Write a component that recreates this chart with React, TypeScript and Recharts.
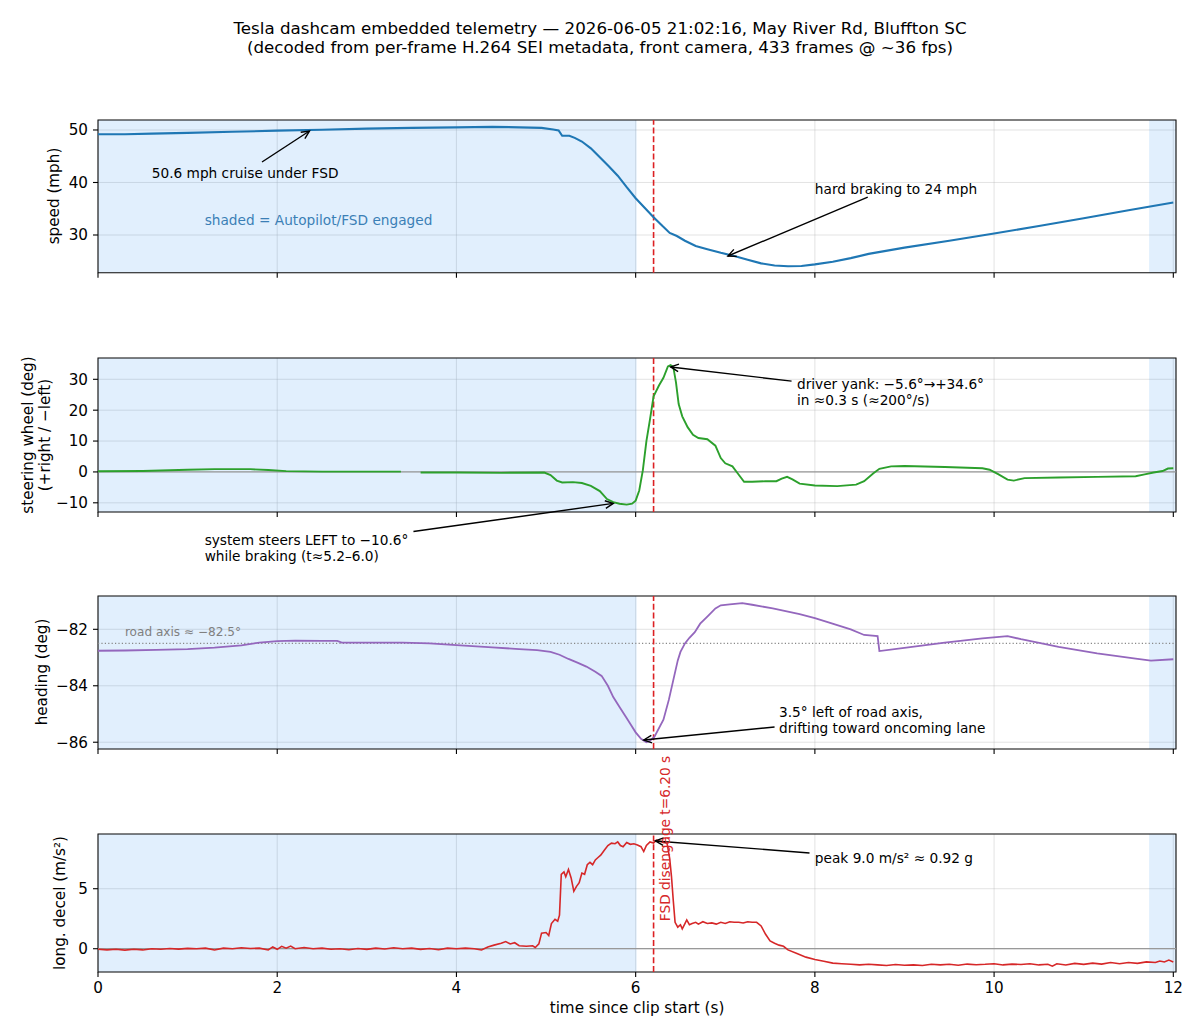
import React from 'react';
import {
  LineChart,
  Line,
  XAxis,
  YAxis,
  CartesianGrid,
  ReferenceLine,
  ReferenceArea,
  ReferenceDot,
} from 'recharts';

const FONT = '"DejaVu Sans", Verdana, sans-serif';
const PAGE_W = 1200;
const PAGE_H = 1036;
const PLOT_LEFT = 98;
const PLOT_RIGHT = 1176;
const Y_AXIS_W = 40;
const X_AXIS_H = 30;

const TITLE_SIZE = 16.7;
const LABEL_SIZE = 15.2;
const TICK_SIZE = 15.2;
const ANNO_SIZE = 13.7;
const SMALL_SIZE = 12.1;

const X_DOMAIN: [number, number] = [0, 12.03];
const X_TICKS = [0, 2, 4, 6, 8, 10, 12];
const DISENGAGE_T = 6.2;
const ENGAGED_SPANS: [number, number][] = [
  [0, 6.01],
  [11.73, 12.03],
];

// speed (mph) vs time (s)
const speedSeries: [number, number][] = [
  [0, 49.2], [0.3, 49.2], [0.6, 49.3], [1.0, 49.45], [1.5, 49.65], [2.0, 49.87],
  [2.5, 50.05], [3.0, 50.25], [3.5, 50.4], [4.0, 50.5], [4.4, 50.6], [4.7, 50.5],
  [4.95, 50.4], [5.08, 50.1], [5.14, 49.9], [5.18, 48.9], [5.26, 48.9], [5.32, 48.5],
  [5.4, 47.8], [5.5, 46.5], [5.6, 44.8], [5.7, 43.1], [5.8, 41.3], [5.9, 39.1],
  [6.0, 37.0], [6.1, 35.2], [6.2, 33.4], [6.3, 31.7], [6.38, 30.4], [6.46, 29.8],
  [6.55, 28.9], [6.67, 27.9], [6.8, 27.3], [6.95, 26.6], [7.1, 26.0], [7.25, 25.3],
  [7.4, 24.6], [7.55, 24.2], [7.7, 24.05], [7.85, 24.1], [8.0, 24.4], [8.2, 24.9],
  [8.4, 25.6], [8.6, 26.4], [9.0, 27.6], [9.5, 28.9], [10.0, 30.3], [10.5, 31.7],
  [11.0, 33.2], [11.5, 34.7], [12.0, 36.2],
];

// steering wheel angle (deg), null = missing frames
const steeringSeries: [number, number | null][] = [
  [0, 0.2], [0.5, 0.3], [1.0, 0.7], [1.3, 0.9], [1.7, 0.9], [1.9, 0.6], [2.1, 0.25],
  [2.5, 0.1], [3.0, 0.1], [3.38, 0.1], [3.48, null], [3.6, -0.2], [4.0, -0.2],
  [4.5, -0.3], [4.98, -0.2], [5.05, -1.0], [5.12, -2.8], [5.18, -3.4], [5.3, -3.3],
  [5.4, -3.6], [5.5, -4.5], [5.6, -6.2], [5.68, -8.8], [5.75, -9.8], [5.82, -10.3],
  [5.9, -10.6], [5.96, -10.3], [6.0, -9.3], [6.04, -6.0], [6.08, 0.5], [6.12, 10],
  [6.16, 17], [6.2, 24.5], [6.26, 28.0], [6.31, 30.5], [6.36, 34.2], [6.39, 34.6],
  [6.42, 34.0], [6.45, 29], [6.48, 22], [6.52, 18], [6.58, 14.5], [6.64, 12], [6.7, 11],
  [6.8, 10.6], [6.89, 8.5], [6.95, 4.5], [7.0, 2.8], [7.08, 1.8], [7.14, -0.5],
  [7.21, -3.2], [7.3, -3.2], [7.45, -3.0], [7.57, -3.0], [7.63, -2.2], [7.69, -1.6],
  [7.75, -2.4], [7.83, -3.8], [8.0, -4.4], [8.25, -4.6], [8.46, -4.1], [8.55, -3.0],
  [8.65, -0.5], [8.72, 1.0], [8.85, 1.8], [9.0, 1.9], [9.45, 1.6], [9.87, 1.2],
  [9.95, 0.7], [10.05, -0.8], [10.15, -2.5], [10.22, -2.8], [10.34, -2.0],
  [10.72, -1.8], [11.15, -1.6], [11.58, -1.4], [11.68, -0.8], [11.78, -0.2],
  [11.88, 0.3], [11.94, 1.1], [12.0, 1.2],
];

// heading (deg)
const headingSeries: [number, number][] = [
  [0, -82.76], [0.3, -82.75], [0.65, -82.73], [1.0, -82.7], [1.3, -82.65], [1.6, -82.57],
  [1.8, -82.47], [2.0, -82.42], [2.2, -82.4], [2.5, -82.41], [2.67, -82.41], [2.72, -82.47],
  [3.0, -82.47], [3.4, -82.47], [3.7, -82.5], [4.0, -82.56], [4.4, -82.64], [4.7, -82.7],
  [4.9, -82.74], [5.05, -82.8], [5.15, -82.9], [5.25, -83.05], [5.35, -83.18],
  [5.45, -83.32], [5.55, -83.5], [5.62, -83.65], [5.69, -84.0], [5.75, -84.4],
  [5.82, -84.75], [5.89, -85.1], [5.95, -85.4], [6.0, -85.65], [6.06, -85.88],
  [6.12, -86.0], [6.16, -85.95], [6.21, -85.8], [6.31, -85.2], [6.37, -84.5],
  [6.42, -83.8], [6.47, -83.1], [6.5, -82.8], [6.55, -82.5], [6.6, -82.3], [6.66, -82.1],
  [6.72, -81.8], [6.8, -81.55], [6.89, -81.26], [6.95, -81.15], [7.05, -81.12],
  [7.19, -81.07], [7.3, -81.13], [7.53, -81.26], [7.83, -81.46], [8.0, -81.6],
  [8.17, -81.77], [8.4, -82.0], [8.55, -82.2], [8.7, -82.24], [8.72, -82.77],
  [9.02, -82.65], [9.45, -82.47], [9.87, -82.32], [10.15, -82.24], [10.3, -82.35],
  [10.72, -82.62], [11.15, -82.85], [11.58, -83.04], [11.75, -83.11], [12.0, -83.06],
];

// longitudinal deceleration (m/s^2)
const decelSeries: [number, number][] = [
  [0.0, -0.05], [0.1, -0.1], [0.2, -0.05], [0.3, -0.12], [0.4, -0.05], [0.5, -0.1],
  [0.6, 0.0], [0.7, -0.05], [0.8, 0.02], [0.9, -0.03], [1.0, 0.03], [1.1, 0.0],
  [1.2, 0.05], [1.3, -0.1], [1.4, 0.05], [1.5, 0.0], [1.6, 0.08], [1.7, 0.02],
  [1.8, 0.05], [1.9, -0.1], [1.95, 0.15], [2.0, -0.05], [2.05, 0.2], [2.1, 0.05],
  [2.15, 0.22], [2.2, 0.0], [2.3, 0.1], [2.4, 0.0], [2.5, 0.05], [2.6, -0.05],
  [2.7, 0.0], [2.8, -0.08], [2.9, 0.02], [3.0, -0.05], [3.1, 0.05], [3.2, -0.02],
  [3.3, 0.08], [3.4, 0.0], [3.5, 0.05], [3.6, -0.05], [3.7, 0.02], [3.8, -0.08],
  [3.9, 0.05], [4.0, 0.0], [4.1, 0.05], [4.2, 0.0], [4.28, -0.1], [4.35, 0.15],
  [4.42, 0.3], [4.5, 0.45], [4.55, 0.6], [4.6, 0.4], [4.65, 0.5], [4.7, 0.25],
  [4.78, 0.2], [4.85, 0.25], [4.88, 0.1], [4.92, 0.4], [4.95, 1.3], [5.0, 1.35],
  [5.03, 1.1], [5.06, 2.1], [5.1, 2.45], [5.13, 2.3], [5.15, 2.8], [5.17, 6.2],
  [5.2, 6.4], [5.22, 6.0], [5.25, 6.6], [5.28, 5.9], [5.31, 4.8], [5.34, 5.2],
  [5.37, 5.5], [5.4, 6.3], [5.43, 6.2], [5.46, 7.0], [5.49, 7.2], [5.52, 7.0],
  [5.55, 7.4], [5.58, 7.6], [5.61, 7.8], [5.65, 8.2], [5.69, 8.6], [5.73, 8.8],
  [5.77, 8.75], [5.8, 8.9], [5.83, 8.6], [5.86, 8.5], [5.9, 8.85], [5.94, 8.7],
  [5.98, 8.75], [6.02, 8.65], [6.06, 8.5], [6.09, 8.1], [6.12, 8.6], [6.16, 8.9],
  [6.2, 8.8], [6.23, 9.05], [6.27, 8.95], [6.31, 8.85], [6.35, 8.8], [6.38, 7.5],
  [6.4, 6.0], [6.42, 4.0], [6.44, 2.2], [6.47, 1.8], [6.5, 2.0], [6.52, 1.65],
  [6.55, 2.1], [6.57, 2.4], [6.6, 2.0], [6.63, 2.1], [6.67, 2.2], [6.7, 2.05],
  [6.75, 2.25], [6.8, 2.1], [6.85, 2.15], [6.9, 2.05], [6.95, 2.2], [7.0, 2.1],
  [7.05, 2.25], [7.1, 2.2], [7.15, 2.2], [7.2, 2.15], [7.25, 2.25], [7.3, 2.2],
  [7.35, 2.2], [7.4, 1.9], [7.45, 1.2], [7.5, 0.65], [7.55, 0.45], [7.6, 0.3],
  [7.65, 0.2], [7.7, -0.1], [7.8, -0.4], [7.9, -0.7], [8.0, -0.9], [8.1, -1.05],
  [8.2, -1.2], [8.3, -1.25], [8.4, -1.3], [8.5, -1.35], [8.6, -1.3], [8.7, -1.35],
  [8.8, -1.4], [8.9, -1.32], [9.0, -1.38], [9.1, -1.35], [9.2, -1.4], [9.3, -1.3],
  [9.4, -1.35], [9.5, -1.3], [9.6, -1.38], [9.7, -1.28], [9.8, -1.33], [9.9, -1.3],
  [10.0, -1.25], [10.1, -1.35], [10.2, -1.28], [10.3, -1.32], [10.4, -1.25],
  [10.5, -1.35], [10.6, -1.3], [10.65, -1.45], [10.7, -1.25], [10.8, -1.35],
  [10.9, -1.22], [11.0, -1.3], [11.1, -1.2], [11.2, -1.28], [11.3, -1.15],
  [11.4, -1.25], [11.5, -1.15], [11.6, -1.22], [11.7, -1.1], [11.8, -1.15],
  [11.85, -1.02], [11.9, -1.1], [11.95, -0.95], [12.0, -1.1],
];

const speedTicks = [30, 40, 50];
const steeringTicks = [-10, 0, 10, 20, 30];
const headingTicks = [-86, -84, -82];
const decelTicks = [0, 5];

const ROAD_AXIS = -82.5;

const toData = (s: [number, number | null][]) => s.map(([t, v]) => ({ t, v }));

const fmt = (v: number) => (v < 0 ? `\u2212${Math.abs(v)}` : `${v}`);

type Anno = {
  lines: string[];
  at: [number, number];
  tail?: [number, number];
  head?: [number, number];
};

const speedAnnos: Anno[] = [
  { lines: ['50.6 mph cruise under FSD'], at: [0.6, 41.8], tail: [1.83, 43.9], head: [2.36, 49.8] },
  { lines: ['hard braking to 24 mph'], at: [8.0, 38.76], tail: [8.59, 37.2], head: [7.03, 26.0] },
];
const steeringAnnos: Anno[] = [
  {
    lines: ['driver yank: \u22125.6\u00b0\u2192+34.6\u00b0', 'in \u22480.3 s (\u2248200\u00b0/s)'],
    at: [7.8, 28.5], tail: [7.74, 29.4], head: [6.39, 34.0],
  },
  {
    lines: ['system steers LEFT to \u221210.6\u00b0', 'while braking (t\u22485.2\u20136.0)'],
    at: [1.19, -21.9], tail: [3.52, -19.3], head: [5.75, -10.2],
  },
];
const headingAnnos: Anno[] = [
  {
    lines: ['3.5\u00b0 left of road axis,', 'drifting toward oncoming lane'],
    at: [7.6, -84.93], tail: [7.55, -85.46], head: [6.09, -85.92],
  },
];
const decelAnnos: Anno[] = [
  { lines: ['peak 9.0 m/s\u00b2 \u2248 0.92 g'], at: [8.0, 7.56], tail: [7.94, 7.98], head: [6.22, 8.98] },
];

const ArrowShape = (p: any) => {
  const { x1, y1, x2, y2 } = p;
  if (![x1, y1, x2, y2].every((n) => typeof n === 'number' && isFinite(n))) return null;
  const ang = Math.atan2(y2 - y1, x2 - x1);
  const L = 8;
  const W = 3.8;
  const bx = x2 - L * Math.cos(ang);
  const by = y2 - L * Math.sin(ang);
  const px = -Math.sin(ang) * W;
  const py = Math.cos(ang) * W;
  return (
    <g>
      <line x1={x1} y1={y1} x2={x2} y2={y2} stroke="#000" strokeWidth={1.4} />
      <polyline
        points={`${bx + px},${by + py} ${x2},${y2} ${bx - px},${by - py}`}
        fill="none"
        stroke="#000"
        strokeWidth={1.4}
      />
    </g>
  );
};

const makeTextShape =
  (lines: string[], opts: { fill?: string; size?: number; rotate?: boolean } = {}) =>
  (p: any) => {
    const { cx, cy } = p;
    if (typeof cx !== 'number' || typeof cy !== 'number') return null;
    const size = opts.size ?? ANNO_SIZE;
    return (
      <text
        x={cx}
        y={cy}
        fill={opts.fill ?? '#000'}
        fontSize={size}
        fontFamily={FONT}
        dominantBaseline="central"
        textAnchor="start"
        transform={opts.rotate ? `rotate(-90, ${cx}, ${cy})` : undefined}
      >
        {lines.map((l, i) => (
          <tspan key={i} x={cx} dy={i === 0 ? 0 : size * 1.18}>
            {l}
          </tspan>
        ))}
      </text>
    );
  };

const renderAnnos = (annos: Anno[], prefix: string) =>
  annos.flatMap((a, i) => {
    const out: React.ReactNode[] = [
      <ReferenceDot
        key={`${prefix}-t-${i}`}
        x={a.at[0]}
        y={a.at[1]}
        r={0}
        ifOverflow="visible"
        shape={makeTextShape(a.lines)}
      />,
    ];
    if (a.tail && a.head) {
      out.push(
        <ReferenceLine
          key={`${prefix}-a-${i}`}
          segment={[
            { x: a.tail[0], y: a.tail[1] },
            { x: a.head[0], y: a.head[1] },
          ]}
          ifOverflow="visible"
          shape={ArrowShape}
        />
      );
    }
    return out;
  });

const EmptyTick = () => <g />;

type PanelProps = {
  data: { t: number; v: number | null }[];
  color: string;
  strokeWidth: number;
  top: number;
  bottom: number;
  yDomain: [number, number];
  yTicks: number[];
  showXLabels: boolean;
  before?: React.ReactNode[];
  after?: React.ReactNode[];
};

const Panel = ({ data, color, strokeWidth, top, bottom, yDomain, yTicks, showXLabels, before = [], after = [] }: PanelProps) => (
  <div style={{ position: 'absolute', left: 0, top: 0, width: PAGE_W, height: PAGE_H, pointerEvents: 'none' }}>
    <LineChart
      width={PAGE_W}
      height={PAGE_H}
      data={data}
      margin={{
        top,
        bottom: PAGE_H - bottom - X_AXIS_H,
        left: PLOT_LEFT - Y_AXIS_W,
        right: PAGE_W - PLOT_RIGHT,
      }}
    >
      {ENGAGED_SPANS.map(([a, b], i) => (
        <ReferenceArea
          key={`shade-${i}`}
          x1={a}
          x2={b}
          y1={yDomain[0]}
          y2={yDomain[1]}
          fill="#1a86f0"
          fillOpacity={0.13}
          stroke="none"
          ifOverflow="hidden"
        />
      ))}
      <CartesianGrid stroke="#b0b0b0" strokeOpacity={0.4} strokeWidth={0.9} />
      <XAxis
        dataKey="t"
        type="number"
        domain={X_DOMAIN}
        allowDataOverflow
        ticks={X_TICKS}
        height={X_AXIS_H}
        axisLine={false}
        tickSize={5}
        tickMargin={5}
        tickLine={{ stroke: '#000', strokeWidth: 1.1 }}
        tick={showXLabels ? { fill: '#000', fontSize: TICK_SIZE, fontFamily: FONT } : EmptyTick}
        interval={0}
      />
      <YAxis
        type="number"
        domain={yDomain}
        allowDataOverflow
        ticks={yTicks}
        width={Y_AXIS_W}
        axisLine={false}
        tickSize={5}
        tickMargin={5}
        tickLine={{ stroke: '#000', strokeWidth: 1.1 }}
        tick={{ fill: '#000', fontSize: TICK_SIZE, fontFamily: FONT }}
        tickFormatter={fmt}
        interval={0}
      />
      {before}
      <ReferenceLine x={DISENGAGE_T} stroke="#dc2023" strokeWidth={1.6} strokeDasharray="6 2.7" />
      <Line
        type="linear"
        dataKey="v"
        stroke={color}
        strokeWidth={strokeWidth}
        dot={false}
        activeDot={false}
        isAnimationActive={false}
      />
      <ReferenceArea
        x1={X_DOMAIN[0]}
        x2={X_DOMAIN[1]}
        y1={yDomain[0]}
        y2={yDomain[1]}
        fill="none"
        fillOpacity={0}
        stroke="#111"
        strokeWidth={1.1}
        ifOverflow="visible"
      />
      {after}
    </LineChart>
  </div>
);

const P1 = { top: 120, bottom: 272.7 };
const P2 = { top: 358, bottom: 512 };
const P3 = { top: 596, bottom: 749 };
const P4 = { top: 834, bottom: 972 };

export default function App() {
  return (
    <div
      style={{
        position: 'absolute',
        left: 0,
        top: 0,
        width: PAGE_W,
        height: PAGE_H,
        background: '#fff',
        fontFamily: FONT,
        overflow: 'hidden',
      }}
    >
      <svg
        width={PAGE_W}
        height={PAGE_H}
        style={{ position: 'absolute', left: 0, top: 0 }}
        fontFamily={FONT}
      >
        <text x={600} y={28} textAnchor="middle" dominantBaseline="central" fontSize={TITLE_SIZE} fill="#000">
          Tesla dashcam embedded telemetry — 2026-06-05 21:02:16, May River Rd, Bluffton SC
        </text>
        <text x={600} y={47} textAnchor="middle" dominantBaseline="central" fontSize={TITLE_SIZE} fill="#000">
          (decoded from per-frame H.264 SEI metadata, front camera, 433 frames @ ~36 fps)
        </text>
        <text transform="translate(54,196) rotate(-90)" textAnchor="middle" dominantBaseline="central" fontSize={LABEL_SIZE} fill="#000">
          speed (mph)
        </text>
        <text transform="translate(28,435) rotate(-90)" textAnchor="middle" dominantBaseline="central" fontSize={LABEL_SIZE} fill="#000">
          steering wheel (deg)
        </text>
        <text transform="translate(45,435) rotate(-90)" textAnchor="middle" dominantBaseline="central" fontSize={LABEL_SIZE} fill="#000">
          (+right / −left)
        </text>
        <text transform="translate(42,672) rotate(-90)" textAnchor="middle" dominantBaseline="central" fontSize={LABEL_SIZE} fill="#000">
          heading (deg)
        </text>
        <text transform="translate(60,903) rotate(-90)" textAnchor="middle" dominantBaseline="central" fontSize={LABEL_SIZE} fill="#000">
          long. decel (m/s²)
        </text>
        <text x={637} y={1008} textAnchor="middle" dominantBaseline="central" fontSize={LABEL_SIZE} fill="#000">
          time since clip start (s)
        </text>
      </svg>

      <Panel
        data={toData(speedSeries)}
        color="#1f77b4"
        strokeWidth={2.1}
        top={P1.top}
        bottom={P1.bottom}
        yDomain={[22.82, 51.9]}
        yTicks={speedTicks}
        showXLabels={false}
        after={[
          <ReferenceDot
            key="shade-note"
            x={1.19}
            y={32.86}
            r={0}
            ifOverflow="visible"
            shape={makeTextShape(['shaded = Autopilot/FSD engaged'], { fill: '#3b7fb6' })}
          />,
          ...renderAnnos(speedAnnos, 'sp'),
        ]}
      />
      <Panel
        data={toData(steeringSeries)}
        color="#2ca02c"
        strokeWidth={1.9}
        top={P2.top}
        bottom={P2.bottom}
        yDomain={[-12.98, 36.9]}
        yTicks={steeringTicks}
        showXLabels={false}
        before={[<ReferenceLine key="z2" y={0} stroke="#999" strokeWidth={1.3} />]}
        after={renderAnnos(steeringAnnos, 'st')}
      />
      <Panel
        data={toData(headingSeries)}
        color="#9467bd"
        strokeWidth={1.8}
        top={P3.top}
        bottom={P3.bottom}
        yDomain={[-86.24, -80.82]}
        yTicks={headingTicks}
        showXLabels={false}
        before={[
          <ReferenceLine key="road" y={ROAD_AXIS} stroke="#888" strokeWidth={1.1} strokeDasharray="1.2 2.2" />,
        ]}
        after={[
          <ReferenceDot
            key="road-note"
            x={0.3}
            y={-82.1}
            r={0}
            ifOverflow="visible"
            shape={makeTextShape(['road axis \u2248 \u221282.5\u00b0'], { fill: '#808080', size: SMALL_SIZE })}
          />,
          ...renderAnnos(headingAnnos, 'hd'),
        ]}
      />
      <Panel
        data={toData(decelSeries)}
        color="#d62728"
        strokeWidth={1.6}
        top={P4.top}
        bottom={P4.bottom}
        yDomain={[-1.94, 9.56]}
        yTicks={decelTicks}
        showXLabels={true}
        before={[<ReferenceLine key="z4" y={0} stroke="#999" strokeWidth={1.3} />]}
        after={[
          ...renderAnnos(decelAnnos, 'dc'),
          <ReferenceDot
            key="fsd-note"
            x={6.33}
            y={2.3}
            r={0}
            ifOverflow="visible"
            shape={makeTextShape(['FSD disengage t=6.20 s'], { fill: '#d62728', rotate: true })}
          />,
        ]}
      />
    </div>
  );
}
